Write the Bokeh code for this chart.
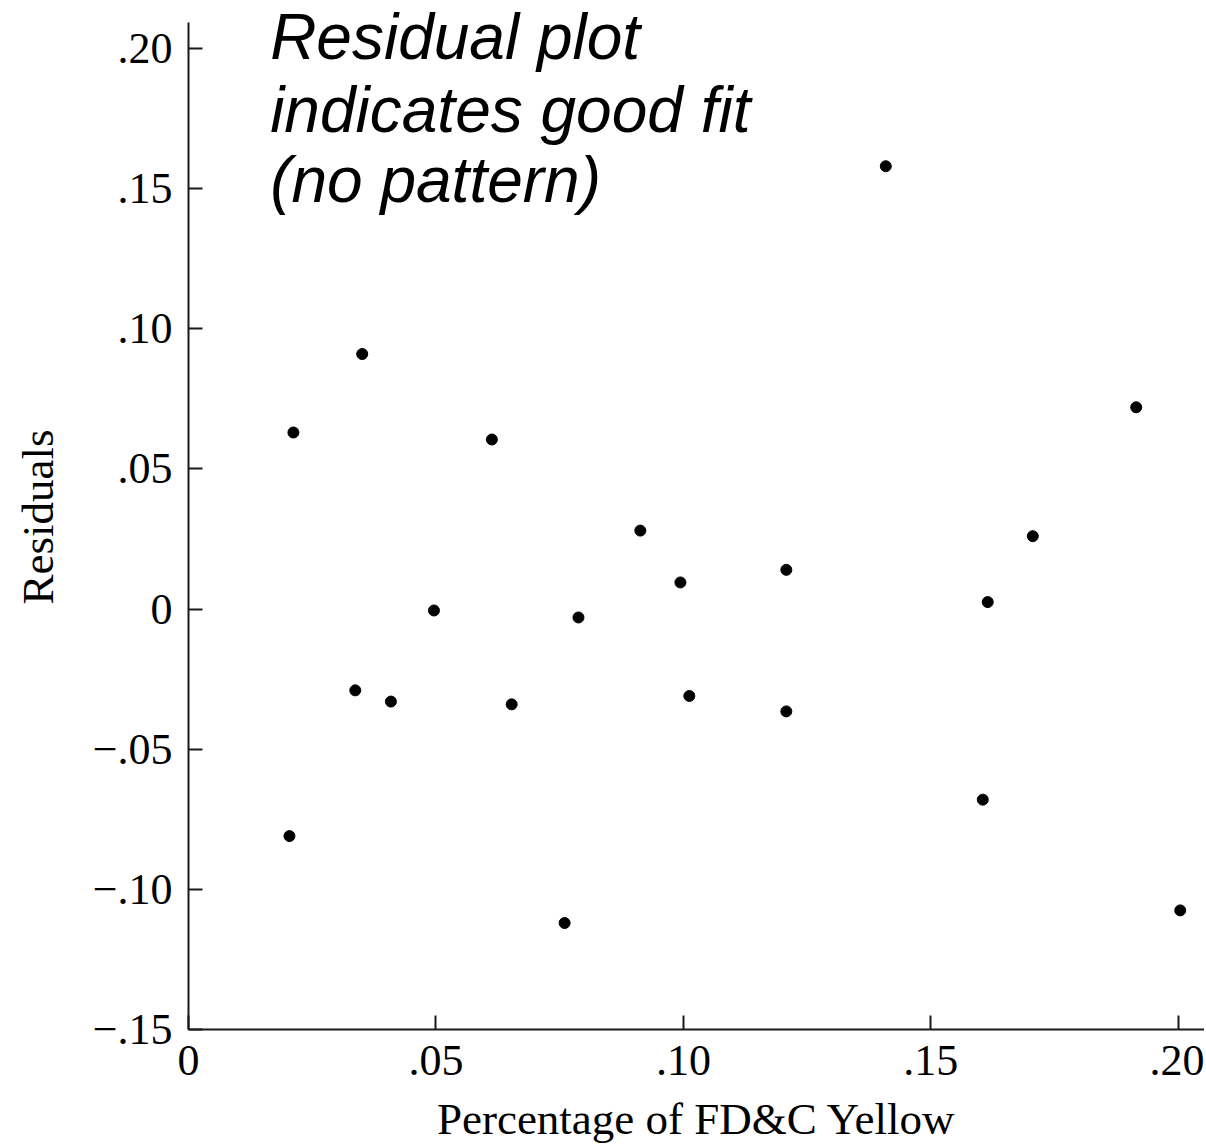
from bokeh.plotting import figure
from bokeh.models import FixedTicker, CustomJSTickFormatter, Range1d, Label, ColumnDataSource
from bokeh.embed import file_html
from bokeh.resources import INLINE

# Data
pct_yellow = [0.0212, 0.0204, 0.0351, 0.0337, 0.0409, 0.0496, 0.0613, 0.0653,
              0.0760, 0.0788, 0.0913, 0.0994, 0.1012, 0.1208, 0.1208, 0.1409,
              0.1605, 0.1615, 0.1706, 0.1915, 0.2004]
residuals = [0.0630, -0.0810, 0.0910, -0.0290, -0.0330, -0.0005, 0.0605, -0.0340,
             -0.1120, -0.0030, 0.0280, 0.0095, -0.0310, 0.0140, -0.0365, 0.1580,
             -0.0680, 0.0025, 0.0260, 0.0720, -0.1075]
x_ticks = [0, 0.05, 0.10, 0.15, 0.20]
y_ticks = [-0.15, -0.10, -0.05, 0, 0.05, 0.10, 0.15, 0.20]
annotation_lines = ["Residual plot", "indicates good fit", "(no pattern)"]

src = ColumnDataSource(dict(x=pct_yellow, y=residuals))

p = figure(width=1204, height=1146, output_backend="svg", toolbar_location=None,
           x_range=Range1d(0, 0.2053), y_range=Range1d(-0.15, 0.2157),
           min_border_left=188, min_border_top=4, min_border_right=0, min_border_bottom=10)
p.outline_line_color = None
p.grid.visible = False
p.background_fill_color = "white"
p.border_fill_color = "white"

p.scatter("x", "y", source=src, size=11, color="black")

fmt_code = """
if (Math.abs(tick) < 1e-9) return "0";
var s = Math.abs(tick).toFixed(2).slice(1);
return (tick < 0 ? "\\u2212" : "") + s;
"""
for ax, ticks in ((p.xaxis[0], x_ticks), (p.yaxis[0], y_ticks)):
    ax.ticker = FixedTicker(ticks=ticks)
    ax.formatter = CustomJSTickFormatter(code=fmt_code)
    ax.major_tick_in = 14
    ax.major_tick_out = 0
    ax.minor_tick_line_color = None
    ax.axis_line_width = 2
    ax.major_tick_line_width = 2
    ax.axis_line_color = "#1a1a1a"
    ax.major_tick_line_color = "#1a1a1a"
    ax.major_label_text_font = "Liberation Serif"
    ax.major_label_text_font_size = "44px"
    ax.major_label_text_color = "black"
    ax.axis_label_text_font = "Liberation Serif"
    ax.axis_label_text_font_size = "45px"
    ax.axis_label_text_font_style = "normal"
    ax.axis_label_text_color = "black"

p.yaxis[0].bounds = (-0.15, 0.2093)
p.xaxis.axis_label = "Percentage of FD&C Yellow"
p.yaxis.axis_label = "Residuals"
p.xaxis.major_label_standoff = 16
p.yaxis.major_label_standoff = 16
p.xaxis.axis_label_standoff = 16
p.yaxis.axis_label_standoff = 27

baselines = [0.2042, 0.1779, 0.1530]
for txt, yb in zip(annotation_lines, baselines):
    p.add_layout(Label(x=0.0165, y=yb, text=txt, text_font="Liberation Sans",
                       text_font_style="italic", text_font_size="64px",
                       text_color="black", text_baseline="alphabetic"))

open("out.html", "w").write(file_html(p, INLINE))
